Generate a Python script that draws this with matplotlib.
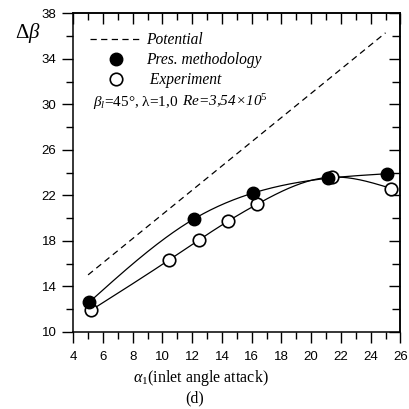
import numpy as np
import matplotlib
matplotlib.use("Agg")
import matplotlib.pyplot as plt
from matplotlib.lines import Line2D
from matplotlib.ticker import MultipleLocator, FixedLocator

plt.rcParams["mathtext.fontset"] = "custom"
plt.rcParams["mathtext.rm"] = "Liberation Serif"
plt.rcParams["mathtext.it"] = "Liberation Serif:italic"
plt.rcParams["mathtext.bf"] = "Liberation Serif:bold"

# Potential (ideal) deflection
pot_alpha = [5.0, 25.0]
pot_dbeta = [15.0, 36.3]

# Present methodology
pres_alpha = [5.08, 12.09, 16.09, 21.12, 25.12]
pres_dbeta = [12.6, 19.9, 22.2, 23.5, 23.9]

# Experiment
exp_alpha = [5.21, 10.43, 12.45, 14.38, 16.34, 21.37, 25.39]
exp_dbeta = [11.9, 16.3, 18.07, 19.7, 21.2, 23.6, 22.6]

x_ticks = list(range(4, 27, 2))
y_ticks = list(range(10, 39, 4))
y_minor = list(range(12, 37, 4))


def natural_spline(x, y, n=200):
    """Natural cubic spline through (x, y), sampled on n points."""
    x = np.asarray(x, float)
    y = np.asarray(y, float)
    k = len(x)
    h = np.diff(x)
    A = np.zeros((k, k))
    b = np.zeros(k)
    A[0, 0] = A[-1, -1] = 1.0
    for i in range(1, k - 1):
        A[i, i - 1] = h[i - 1]
        A[i, i] = 2 * (h[i - 1] + h[i])
        A[i, i + 1] = h[i]
        b[i] = 6 * ((y[i + 1] - y[i]) / h[i] - (y[i] - y[i - 1]) / h[i - 1])
    m = np.linalg.solve(A, b)
    xs = np.linspace(x[0], x[-1], n)
    idx = np.clip(np.searchsorted(x, xs) - 1, 0, k - 2)
    x0, x1 = x[idx], x[idx + 1]
    hh = x1 - x0
    t0, t1 = x1 - xs, xs - x0
    ys = (m[idx] * t0 ** 3 / (6 * hh) + m[idx + 1] * t1 ** 3 / (6 * hh)
          + (y[idx] / hh - m[idx] * hh / 6) * t0
          + (y[idx + 1] / hh - m[idx + 1] * hh / 6) * t1)
    return xs, ys


fig = plt.figure(figsize=(4.09, 4.09), dpi=100)
ax = fig.add_axes([0.179, 0.189, 0.800, 0.778])

ax.plot(pot_alpha, pot_dbeta, color="black", lw=0.9, ls=(0, (5, 3.5)))

xs, ys = natural_spline(pres_alpha, pres_dbeta)
ax.plot(xs, ys, color="black", lw=0.9)
xs, ys = natural_spline(exp_alpha, exp_dbeta)
ax.plot(xs, ys, color="black", lw=0.9)

MS = 9
ax.plot(exp_alpha, exp_dbeta, ls="none", marker="o", ms=MS,
        mfc="white", mec="black", mew=1.2, zorder=3)
ax.plot(pres_alpha, pres_dbeta, ls="none", marker="o", ms=MS,
        mfc="black", mec="black", zorder=4)

ax.set_xlim(4, 26)
ax.set_ylim(10, 38)

for s in ax.spines.values():
    s.set_linewidth(1.1)

ax.xaxis.set_major_locator(FixedLocator(x_ticks))
ax.xaxis.set_minor_locator(MultipleLocator(1))
ax.yaxis.set_major_locator(FixedLocator(y_ticks))
ax.yaxis.set_minor_locator(FixedLocator(y_minor))
ax.tick_params(which="major", direction="out", length=8, width=1.0,
               labelsize=9.5)
ax.tick_params(axis="x", which="major", pad=6)
ax.tick_params(axis="y", which="major", pad=4)
ax.tick_params(which="minor", direction="out", length=5, width=1.0)
for lab in ax.get_xticklabels() + ax.get_yticklabels():
    lab.set_fontfamily("Liberation Sans")

# inward ticks on top and right
top = ax.secondary_xaxis("top")
top.xaxis.set_major_locator(FixedLocator(x_ticks))
top.xaxis.set_minor_locator(MultipleLocator(1))
top.tick_params(which="major", direction="in", length=8, width=1.0, labeltop=False)
top.tick_params(which="minor", direction="in", length=5, width=1.0)
top.spines["top"].set_linewidth(1.1)
right = ax.secondary_yaxis("right")
right.yaxis.set_major_locator(FixedLocator(y_ticks))
right.yaxis.set_minor_locator(FixedLocator(y_minor))
right.tick_params(which="major", direction="in", length=8, width=1.0, labelright=False)
right.tick_params(which="minor", direction="in", length=6, width=1.0)
right.spines["right"].set_linewidth(1.1)

handles = [
    Line2D([], [], color="black", lw=0.9, ls=(0, (5, 3.5))),
    Line2D([], [], ls="none", marker="o", ms=MS, mfc="black", mec="black"),
    Line2D([], [], ls="none", marker="o", ms=MS, mfc="white", mec="black", mew=1.2),
]
labels = ["Potential", "Pres. methodology", " Experiment"]
ax.legend(handles, labels, loc="upper left", bbox_to_anchor=(0.01, 0.985),
          frameon=False, handlelength=3.3, handletextpad=0.3,
          labelspacing=0.25, borderaxespad=0.5,
          prop={"family": "Liberation Serif", "style": "italic", "size": 11.2})

# operating conditions
cond_y = 0.71
cond = ax.text(0.06, cond_y, r"$\beta_{l}$=45°, λ=1,0",
               transform=ax.transAxes, fontsize=11, fontfamily="Liberation Serif",
               va="baseline", ha="left")
ax.annotate(r"Re=3,54×10$^{5}$", xy=(1, cond_y), xycoords=(cond, ax.transAxes),
            xytext=(3, 0), textcoords="offset points",
            fontsize=11, fontfamily="Liberation Serif", style="italic",
            va="baseline", ha="left")

fig.text(0.068, 0.92, r"$\Delta\beta$", fontsize=15, ha="center", va="center")
fig.text(0.49, 0.077, r"$\alpha_{1}$(inlet angle attack)", fontsize=11.5,
         fontfamily="Liberation Serif", ha="center", va="center")
fig.text(0.475, 0.027, "(d)", fontsize=11.5, fontfamily="Liberation Serif",
         ha="center", va="center")

fig.savefig("out.png", dpi=100)
